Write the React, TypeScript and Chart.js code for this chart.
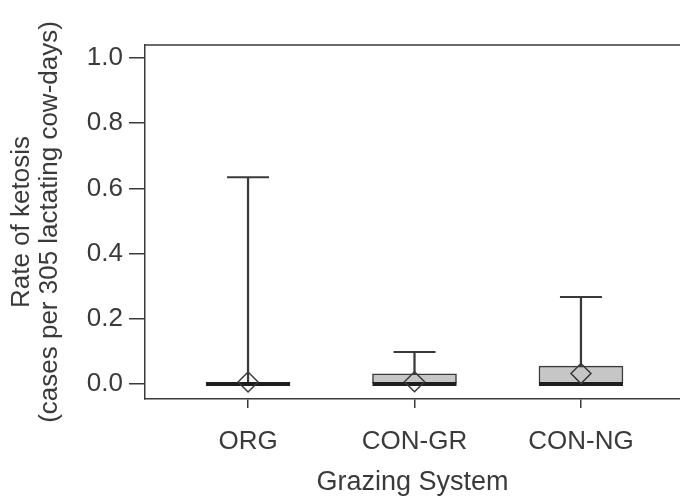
import React, { useEffect, useRef } from "react";
import { Chart, registerables } from "chart.js";

Chart.register(...registerables);

const categories = ["ORG", "CON-GR", "CON-NG"];
const positions = [1, 2, 3];
const q1 = [0, 0, 0];
const q3 = [0.005, 0.031, 0.055];
const medians = [0, 0, 0];
const whiskerMax = [0.634, 0.098, 0.267];
const means = [0.006, 0.007, 0.032];
const yTicks = [0, 0.2, 0.4, 0.6, 0.8, 1.0];

const INK = "#3a3a3a";
const FONT = "'Liberation Sans', Arial, Helvetica, sans-serif";

const frameTop = {
  id: "frameTop",
  afterDraw(chart: any) {
    const { ctx, chartArea } = chart;
    ctx.save();
    ctx.strokeStyle = INK;
    ctx.lineWidth = 1.5;
    ctx.beginPath();
    ctx.moveTo(chartArea.left, chartArea.top);
    ctx.lineTo(chartArea.right, chartArea.top);
    ctx.stroke();
    ctx.restore();
  },
};

export default function App() {
  const ref = useRef<HTMLCanvasElement>(null);
  useEffect(() => {
    if (!ref.current) return;
    const chart = new Chart(ref.current, {
      type: "bar",
      data: {
        datasets: [
          {
            type: "bar",
            data: positions.map((p, i) => ({ x: p, y: [q3[i], whiskerMax[i]] })),
            backgroundColor: INK,
            borderWidth: 0,
            barThickness: 1.6,
            grouped: false,
            order: 5,
          } as any,
          {
            type: "bar",
            data: positions.map((p, i) => ({ x: p, y: [q1[i], q3[i]] })),
            backgroundColor: "#c6c6c6",
            borderColor: INK,
            borderWidth: 1.5,
            borderSkipped: false,
            barThickness: 84,
            grouped: false,
            order: 4,
          } as any,
          {
            type: "scatter",
            data: positions.map((p, i) => ({ x: p, y: whiskerMax[i] })),
            pointStyle: "line",
            radius: 21,
            borderWidth: 2,
            borderColor: INK,
            order: 3,
          } as any,
          {
            type: "scatter",
            data: positions.map((p, i) => ({ x: p, y: medians[i] })),
            pointStyle: "line",
            radius: 42,
            borderWidth: 4,
            borderColor: "#1e1e1e",
            order: 2,
          } as any,
          {
            type: "scatter",
            data: positions.map((p, i) => ({ x: p, y: means[i] })),
            pointStyle: "rectRot",
            radius: 10,
            borderWidth: 1.5,
            borderColor: INK,
            backgroundColor: "rgba(0,0,0,0)",
            order: 1,
          } as any,
        ],
      },
      options: {
        animation: false,
        responsive: false,
        events: [],
        layout: { autoPadding: false, padding: { top: 45, right: 0, left: 0, bottom: 0 } },
        plugins: { legend: { display: false }, tooltip: { enabled: false } },
        scales: {
          x: {
            type: "linear",
            offset: false,
            min: 0.381,
            max: 3.595,
            afterBuildTicks: (s: any) => {
              s.ticks = positions.map((v) => ({ value: v }));
            },
            afterFit: (s: any) => {
              s.height = 97;
              s.paddingLeft = 0;
              s.paddingRight = 0;
            },
            ticks: {
              autoSkip: false,
              maxRotation: 0,
              padding: 18,
              color: INK,
              font: { family: FONT, size: 26 },
              callback: (v: any) => categories[positions.indexOf(Number(v))] ?? "",
            },
            grid: {
              display: true,
              offset: false,
              drawOnChartArea: false,
              drawTicks: true,
              tickLength: 9,
              color: INK,
              lineWidth: 1.5,
            },
            border: { display: true, color: INK, width: 1.5 },
            title: {
              display: true,
              text: "Grazing System",
              color: INK,
              font: { family: FONT, size: 27, lineHeight: 1 },
              padding: { top: 0, bottom: 0 },
            },
          },
          y: {
            type: "linear",
            min: -0.046,
            max: 1.04,
            afterBuildTicks: (s: any) => {
              s.ticks = yTicks.map((v) => ({ value: v }));
            },
            afterFit: (s: any) => {
              s.width = 145;
            },
            ticks: {
              padding: 6,
              color: INK,
              font: { family: FONT, size: 26 },
              callback: (v: any) => Number(v).toFixed(1),
            },
            grid: {
              display: true,
              drawOnChartArea: false,
              drawTicks: true,
              tickLength: 16,
              color: INK,
              lineWidth: 1.5,
            },
            border: { display: true, color: INK, width: 1.5 },
            title: {
              display: true,
              text: ["Rate of ketosis", "(cases per 305 lactating cow-days)"],
              color: INK,
              font: { family: FONT, size: 26, lineHeight: 1.08 },
              padding: { top: 8, bottom: 0 },
            },
          },
        },
      },
      plugins: [frameTop],
    });
    return () => chart.destroy();
  }, []);
  return (
    <div style={{ position: "absolute", left: 0, top: 0, width: 680, height: 496 }}>
      <canvas ref={ref} width={680} height={496} style={{ display: "block" }} />
    </div>
  );
}
